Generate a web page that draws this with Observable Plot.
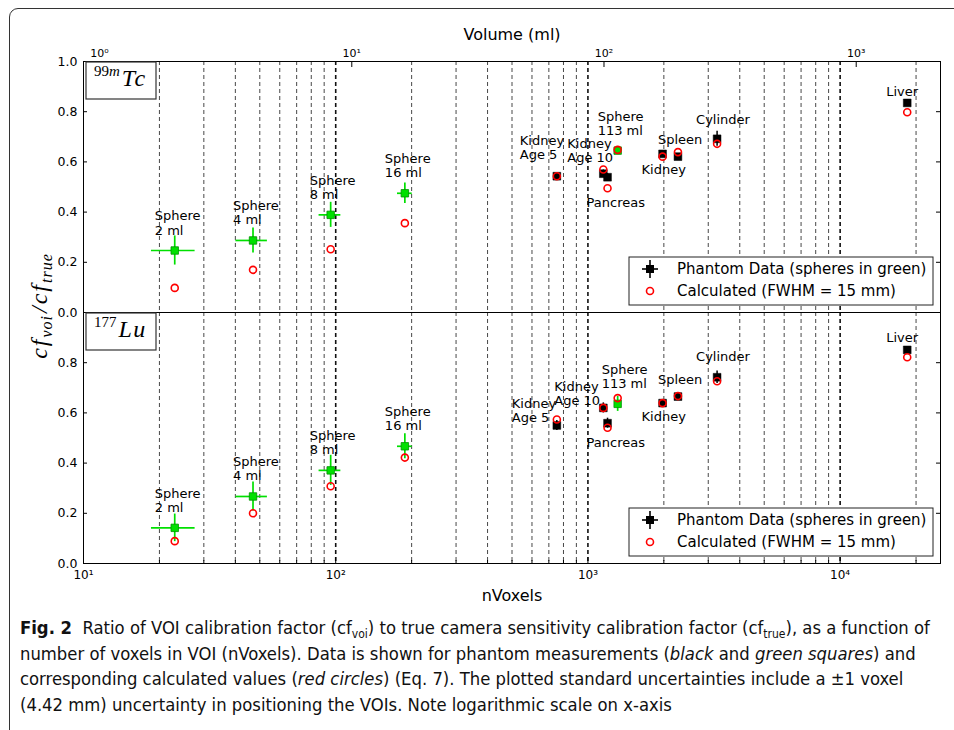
<!DOCTYPE html>
<html><head><meta charset="utf-8">
<script src="https://cdn.jsdelivr.net/npm/d3@7"></script>
<script src="https://cdn.jsdelivr.net/npm/@observablehq/plot@0.6"></script>
<style>
html,body{margin:0;padding:0;background:#fff;width:954px;height:730px;overflow:hidden;}
#fig{position:relative;width:954px;height:730px;}
#border{position:absolute;left:9px;top:8px;width:990px;height:800px;border:1.5px solid #333;border-radius:9px;box-sizing:border-box;}
.panel{position:absolute;left:0;}
#ylab{position:absolute;left:0;top:0;}
#caption{position:absolute;left:20px;top:615px;font-family:"Liberation Sans Narrow","DejaVu Sans Condensed",sans-serif;font-size:18.3px;color:#111;white-space:nowrap;}
#caption div{height:25.5px;line-height:25.5px;}
#caption b{font-weight:bold;}
#caption .s{font-size:12px;position:relative;top:4px;line-height:0;}
</style></head><body>
<div id="fig">
<div id="border"></div>
<div id="top" class="panel" style="top:0px"></div>
<div id="bot" class="panel" style="top:302px"></div>
<svg id="ylab" width="90" height="610"></svg>
<div id="caption">
<div><b>Fig. 2</b>&nbsp; Ratio of VOI calibration factor (cf<span class="s">voi</span>) to true camera sensitivity calibration factor (cf<span class="s">true</span>), as a function of</div>
<div>number of voxels in VOI (nVoxels). Data is shown for phantom measurements (<i>black</i> and <i>green squares</i>) and</div>
<div>corresponding calculated values (<i>red circles</i>) (Eq. 7). The plotted standard uncertainties include a ±1 voxel</div>
<div>(4.42 mm) uncertainty in positioning the VOIs. Note logarithmic scale on x-axis</div>
</div>
</div>
<script>
// ---------- data ----------
const voxelMl = 0.08635; // (4.42 mm)^3 voxel volume in ml
const voiNames = ["Sphere 2 ml","Sphere 4 ml","Sphere 8 ml","Sphere 16 ml","Kidney Age 5","Kidney Age 10","Pancreas","Sphere 113 ml","Kidney","Spleen","Cylinder","Liver"];
const labelTexts = ["Sphere\n2 ml","Sphere\n4 ml","Sphere\n8 ml","Sphere\n16 ml","Kidney\nAge 5","Kidney\nAge 10","Pancreas","Sphere\n113 ml","Kidney","Spleen","Cylinder","Liver"];
const isSphere = [true,true,true,true,false,false,false,true,false,false,false,false];
const nVoxels = [23.0, 47.0, 95.5, 188, 753, 1151, 1196, 1312, 1977, 2275, 3252, 18450];
const nVoxLo  = [18.6, 40.2, 85.9, 175.8, 735, 1130, 1175, 1280, 1945, 2240, 3200, 18250];
const nVoxHi  = [27.7, 53.6, 104.8, 201, 772, 1172, 1218, 1345, 2010, 2310, 3305, 18650];

const tcMeasured   = [0.247, 0.287, 0.389, 0.475, 0.543, 0.553, 0.539, 0.645, 0.632, 0.621, 0.692, 0.835];
const tcError      = [0.058, 0.050, 0.050, 0.041, 0.012, 0.015, 0.015, 0.015, 0.012, 0.012, 0.030, 0.008];
const tcCalculated = [0.098, 0.170, 0.252, 0.356, 0.543, 0.570, 0.495, 0.648, 0.621, 0.639, 0.672, 0.798];

const luMeasured   = [0.142, 0.267, 0.371, 0.467, 0.550, 0.620, 0.559, 0.636, 0.639, 0.665, 0.742, 0.851];
const luError      = [0.055, 0.058, 0.060, 0.050, 0.020, 0.020, 0.020, 0.030, 0.010, 0.012, 0.025, 0.008];
const luCalculated = [0.089, 0.200, 0.308, 0.422, 0.574, 0.620, 0.541, 0.659, 0.639, 0.667, 0.726, 0.822];

const xMajorTicks = [10, 100, 1000, 10000];
const xMinorTicks = [20,30,40,50,60,70,80,90,200,300,400,500,600,700,800,900,2000,3000,4000,5000,6000,7000,8000,9000,20000];
const volumeTicks = [1, 10, 100, 1000];
const yTicksUpper = [0, 0.2, 0.4, 0.6, 0.8, 1.0];
const yTicksLower = [0, 0.2, 0.4, 0.6, 0.8];
const legendLabels = ["Phantom Data (spheres in green)", "Calculated (FWHM = 15 mm)"];

// ---------- layout (label offsets in px: dx, dy, lineAnchor) ----------
const tcLabelLayout = [[-20,-16,"bottom"],[-20,-16,"bottom"],[-21,-16,"bottom"],[-20,-16,"bottom"],
  [-37,-17,"bottom"],[-36,-12,"bottom"],[-21,20,"top"],[-20,-16,"bottom"],[-21,10,"top"],[-20,-13,"bottom"],[-21,-15,"bottom"],[-21,-7,"bottom"]];
const luLabelLayout = [[-20,-16,"bottom"],[-20,-16,"bottom"],[-21,-16,"bottom"],[-20,-16,"bottom"],
  [-45,-3,"bottom"],[-49,-3,"bottom"],[-21,14,"top"],[-16,-16,"bottom"],[-21,8,"top"],[-20,-13,"bottom"],[-21,-16,"bottom"],[-21,-8,"bottom"]];

const W = 954, ML = 83, MR = 14, PH = 251;
const PW = W - ML - MR;
const sup = {"0":"⁰","1":"¹","2":"²","3":"³","4":"⁴"};
const pow10 = v => "10" + sup[String(Math.round(Math.log10(v)))];
const GREEN = "#00e000", GREEN_EDGE = "#009000", RED = "#ff0000";

function panel(measured, error, calculated, layout, isTop) {
  const rows = voiNames.map((name, i) => ({
    name, label: labelTexts[i], sphere: isSphere[i],
    n: nVoxels[i], lo: nVoxLo[i], hi: nVoxHi[i],
    v: measured[i], e: error[i], c: calculated[i]
  }));
  const spheres = rows.filter(d => d.sphere);
  const organs = rows.filter(d => !d.sphere);
  const marks = [
    Plot.ruleX(xMinorTicks, {stroke: "#333", strokeWidth: 0.9, strokeDasharray: "4,3"}),
    Plot.ruleX(xMajorTicks.slice(1), {stroke: "#111", strokeWidth: 1.6, strokeDasharray: "4,3"}),
    // inward ticks
    Plot.ruleY(isTop ? yTicksUpper : yTicksLower, {stroke: "#000", insetRight: PW - 4}),
    Plot.ruleY(isTop ? yTicksUpper : yTicksLower, {stroke: "#000", insetLeft: PW - 4}),
    Plot.axisY({ticks: isTop ? yTicksUpper : yTicksLower, tickSize: 0, tickPadding: 6, tickFormat: d3.format(".1f"), fontSize: 12.5}),
    // error bars
    Plot.ruleX(organs, {x: "n", y1: d => d.v - d.e, y2: d => d.v + d.e, stroke: "#000", strokeWidth: 1.5}),
    Plot.ruleY(organs, {y: "v", x1: "lo", x2: "hi", stroke: "#000", strokeWidth: 1.5}),
    Plot.ruleX(spheres, {x: "n", y1: d => d.v - d.e, y2: d => d.v + d.e, stroke: GREEN, strokeWidth: 1.7}),
    Plot.ruleY(spheres, {y: "v", x1: "lo", x2: "hi", stroke: GREEN, strokeWidth: 1.7}),
    Plot.dot(organs, {x: "n", y: "v", symbol: "square", r: 4.4, fill: "#000", stroke: "#000", strokeWidth: 0.5}),
    Plot.dot(spheres, {x: "n", y: "v", symbol: "square", r: 4.2, fill: GREEN, stroke: GREEN_EDGE, strokeWidth: 0.8}),
    Plot.dot(rows, {x: "n", y: "c", r: 3.5, stroke: RED, strokeWidth: 1.6, fill: "none"}),
    ...rows.map((d, i) => Plot.text([d], {x: "n", y: "v", text: "label", dx: layout[i][0], dy: layout[i][1],
      lineAnchor: layout[i][2], textAnchor: "start", fontSize: 13, lineHeight: 1.08, fill: "#000"})),
    Plot.frame({stroke: "#000", strokeWidth: 1})
  ];
  if (isTop) {
    marks.push(Plot.ruleX(volumeTicks.map(v => v / voxelMl), {stroke: "#000", insetBottom: PH - 6}));
    marks.push(Plot.axisX({anchor: "top", ticks: volumeTicks.map(v => v / voxelMl), tickSize: 0, tickPadding: 5,
      tickFormat: d => pow10(d * voxelMl), fontSize: 11}));
    marks.push(Plot.text(["Volume (ml)"], {frameAnchor: "top", dy: -27, lineAnchor: "middle", fontSize: 16}));
  } else {
    marks.push(Plot.ruleX(xMajorTicks, {stroke: "#000", insetTop: PH - 6}));
    marks.push(Plot.ruleX(xMinorTicks, {stroke: "#000", insetTop: PH - 3}));
    marks.push(Plot.axisX({anchor: "bottom", ticks: xMajorTicks, tickSize: 0, tickPadding: 7, tickFormat: pow10, fontSize: 12}));
    marks.push(Plot.text(["nVoxels"], {frameAnchor: "bottom", dy: 32, lineAnchor: "middle", fontSize: 16}));
  }
  return Plot.plot({
    width: W, height: isTop ? 61 + PH + 10 : 10 + PH + 45,
    marginLeft: ML, marginRight: MR, marginTop: isTop ? 61 : 10, marginBottom: isTop ? 10 : 45,
    x: {type: "log", domain: [10, 25000], label: null},
    y: {domain: [0, 1], label: null},
    style: {fontFamily: "DejaVu Sans", background: "transparent", overflow: "visible", color: "#000"},
    marks
  });
}

function addIsotope(svg, x0, y0, mass, massItalic, sym) {
  const g = d3.select(svg).append("g").attr("text-anchor", "start");
  g.append("rect").attr("x", x0).attr("y", y0).attr("width", 70).attr("height", 37)
    .attr("fill", "#fff").attr("stroke", "#333").attr("stroke-width", 1.2);
  const t = g.append("text").attr("x", x0 + 8).attr("y", y0 + 24).attr("font-family", "Liberation Serif").attr("fill", "#000");
  t.append("tspan").attr("font-size", 15).attr("dy", -10).text(mass);
  if (massItalic) t.append("tspan").attr("font-size", 15).attr("font-style", "italic").text(massItalic);
  t.append("tspan").attr("font-size", 24).attr("font-style", "italic").attr("dy", 10).attr("dx", 2)
    .attr("letter-spacing", 1.5).text(sym);
}

function addLegend(svg, x0, y0) {
  const g = d3.select(svg).append("g").attr("text-anchor", "start");
  g.append("rect").attr("x", x0).attr("y", y0).attr("width", 304).attr("height", 48)
    .attr("fill", "#fff").attr("stroke", "#222").attr("stroke-width", 1);
  const cx = x0 + 21, cy1 = y0 + 12, cy2 = y0 + 34;
  g.append("line").attr("x1", cx - 8).attr("x2", cx + 8).attr("y1", cy1).attr("y2", cy1).attr("stroke", "#000").attr("stroke-width", 1.6);
  g.append("line").attr("x1", cx).attr("x2", cx).attr("y1", cy1 - 9).attr("y2", cy1 + 9).attr("stroke", "#000").attr("stroke-width", 1.6);
  g.append("rect").attr("x", cx - 4).attr("y", cy1 - 4).attr("width", 8).attr("height", 8).attr("fill", "#000");
  g.append("circle").attr("cx", cx).attr("cy", cy2).attr("r", 3.5).attr("fill", "none").attr("stroke", RED).attr("stroke-width", 1.6);
  [cy1, cy2].forEach((cy, i) => g.append("text").attr("x", x0 + 48).attr("y", cy).attr("dy", "0.36em")
    .attr("font-family", "DejaVu Sans").attr("font-size", 15).attr("fill", "#000").text(legendLabels[i]));
}

const topSvg = panel(tcMeasured, tcError, tcCalculated, tcLabelLayout, true);
const botSvg = panel(luMeasured, luError, luCalculated, luLabelLayout, false);
addIsotope(topSvg, 86, 62, "99", "m", "Tc");
addIsotope(botSvg, 86, 11, "177", null, "Lu");
addLegend(topSvg, 629, 257);
addLegend(botSvg, 629, 206);
document.getElementById("top").appendChild(topSvg);
document.getElementById("bot").appendChild(botSvg);

// shared y-axis label
const yl = d3.select("#ylab").append("text")
  .attr("transform", "translate(47,306) rotate(-90)").attr("text-anchor", "middle")
  .attr("font-family", "Liberation Serif").attr("font-style", "italic").attr("font-size", 24).attr("fill", "#000");
yl.append("tspan").attr("letter-spacing", 2).text("cf");
yl.append("tspan").attr("font-size", 16).attr("dy", 5).attr("letter-spacing", 1).text("voi");
yl.append("tspan").attr("dy", -5).attr("dx", 2).attr("letter-spacing", 2).text("/cf");
yl.append("tspan").attr("font-size", 16).attr("dy", 5).attr("letter-spacing", 1).text("true");
</script>
</body></html>
